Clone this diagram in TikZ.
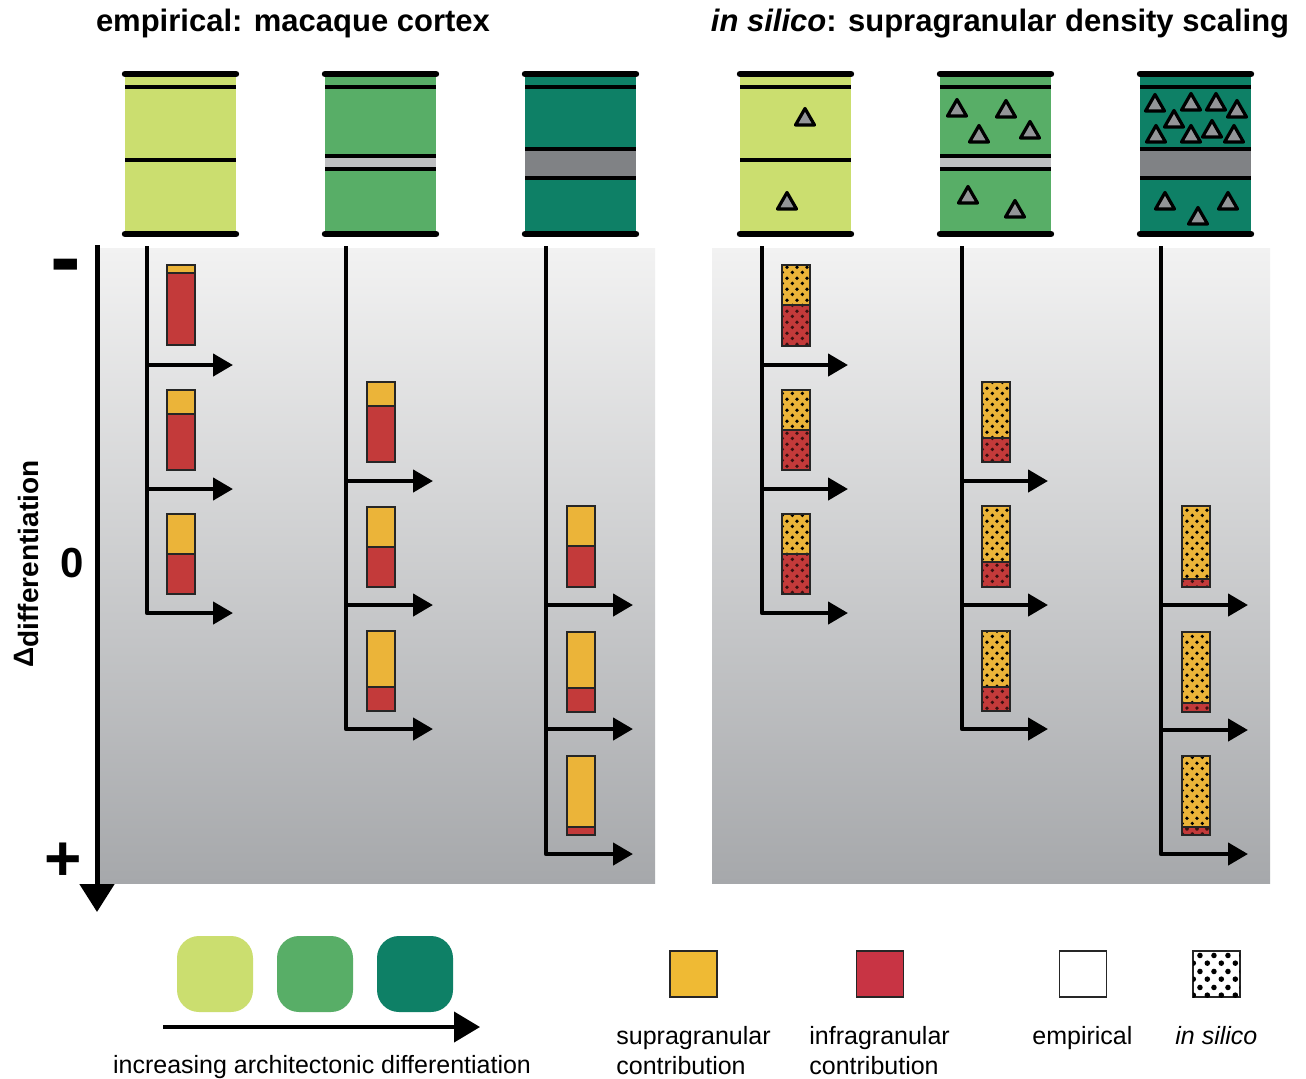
\documentclass[tikz,border=0pt]{standalone}
\usepackage{fontspec}
\setmainfont{Liberation Sans}
\usetikzlibrary{arrows.meta,patterns}
\pgfdeclarepatternformonly{hexdots}{\pgfqpoint{0pt}{0pt}}{\pgfqpoint{5pt}{5.5pt}}{\pgfqpoint{5pt}{5.5pt}}{%
\pgfpathcircle{\pgfqpoint{1.25pt}{1.375pt}}{1.0pt}%
\pgfpathcircle{\pgfqpoint{3.75pt}{4.125pt}}{1.0pt}%
\pgfusepath{fill}}
\pgfdeclarepatternformonly{hexdotsbig}{\pgfqpoint{0pt}{0pt}}{\pgfqpoint{7pt}{8pt}}{\pgfqpoint{7pt}{8pt}}{%
\pgfpathcircle{\pgfqpoint{1.75pt}{2pt}}{1.45pt}%
\pgfpathcircle{\pgfqpoint{5.25pt}{6pt}}{1.45pt}%
\pgfusepath{fill}}
\definecolor{cA}{RGB}{203,222,111}
\definecolor{cB}{RGB}{88,174,103}
\definecolor{cC}{RGB}{14,128,102}
\definecolor{bandA}{RGB}{190,191,193}
\definecolor{bandB}{RGB}{128,130,133}
\definecolor{supracol}{RGB}{235,180,57}
\definecolor{infracol}{RGB}{195,58,58}
\definecolor{legsupra}{RGB}{239,186,52}
\definecolor{leginfra}{RGB}{200,52,68}
\definecolor{trigray}{RGB}{147,149,152}
\definecolor{paneltop}{RGB}{242,242,242}
\definecolor{panelbot}{RGB}{166,168,171}
\tikzset{
 thickln/.style={line width=3.2pt,line cap=round},
 thinln/.style={line width=1.8pt},
 treeline/.style={line width=2.2pt,line join=round,-{Triangle[length=10pt,width=11pt]}},
 barline/.style={draw=black!85,line width=0.6pt},
 trimark/.style={fill=trigray,draw=black,line width=1.6pt,line join=round},
 titletext/.style={font=\fontsize{15.5}{18}\selectfont\bfseries,anchor=base},
 legtext/.style={font=\fontsize{12.5}{15}\selectfont,anchor=base west,inner sep=0pt},
 legsq/.style={draw=black!85,line width=0.7pt,minimum width=23.5pt,minimum height=23pt,inner sep=0pt},
 greensq/.style={rounded corners=11pt,minimum size=38pt,inner sep=0pt},
}
\newcommand{\colbase}[2]{%
 \fill[#2] (#1,74) rectangle ++(111,160);
 \draw[thinln] (#1,87) -- ++(111,0);}
\newcommand{\colband}[4]{%
 \fill[#4] (#1,#2) rectangle ++(111,#3-#2);
 \draw[thinln] (#1,#2) -- ++(111,0);
 \draw[thinln] (#1,#3) -- ++(111,0);}
\newcommand{\coltops}[1]{%
 \draw[thickln] (#1,74) -- ++(111,0);
 \draw[thickln] (#1,234) -- ++(111,0);}
\newcommand{\cortri}[2]{\draw[trimark] (#1-9.5,#2+8) -- (#1,#2-8.5) -- (#1+9.5,#2+8) -- cycle;}
\newcommand{\empbar}[4]{%
 \fill[supracol] (#1,#2) rectangle (#1+28,#3);
 \fill[infracol] (#1,#3) rectangle (#1+28,#4);
 \draw[barline] (#1,#2) rectangle (#1+28,#4);
 \draw[barline] (#1,#3) -- (#1+28,#3);}
\newcommand{\silbar}[4]{%
 \fill[supracol] (#1,#2) rectangle (#1+28,#3);
 \fill[infracol] (#1,#3) rectangle (#1+28,#4);
 \fill[pattern=hexdots,pattern color=black] (#1,#2) rectangle (#1+28,#3);
 \fill[pattern=hexdots,pattern color=black!70!infracol] (#1,#3) rectangle (#1+28,#4);
 \draw[barline] (#1,#2) rectangle (#1+28,#4);
 \draw[barline] (#1,#3) -- (#1+28,#3);}
\newcommand{\branchtree}[5]{%
 \coordinate (#1top) at (#2,246);
 \coordinate (#1end) at (#3,#5);
 \draw[treeline] (#1top) |- (#1end);
 \foreach \yy [count=\k] in {#4} {
   \coordinate (#1s\k) at (#2,\yy);
   \coordinate (#1t\k) at (#3,\yy);
   \draw[treeline] (#1s\k) -- (#1t\k);
 }}
\begin{document}
\begin{tikzpicture}[x=0.5pt,y=-0.5pt]
\fill[white] (0,0) rectangle (1306,1078);
\useasboundingbox (0,0) rectangle (1306,1078);
% titles
\node[titletext] (t1) at (293,31) {empirical: macaque cortex};
\node[titletext] (t2) at (1000,31) {\textit{in silico}: supragranular density scaling};
% panels
\shade[top color=paneltop,bottom color=panelbot] (97,248) rectangle (655,883);
\shade[top color=paneltop,bottom color=panelbot] (712,248) rectangle (1270,883);
% empirical columns
\colbase{125}{cA}
\draw[thinln] (125,160) -- ++(111,0);
\coltops{125}
\colbase{325}{cB}
\colband{325}{156}{169}{bandA}
\coltops{325}
\colbase{525}{cC}
\colband{525}{149}{178}{bandB}
\coltops{525}
% in silico columns
\colbase{740}{cA}
\draw[thinln] (740,160) -- ++(111,0);
\coltops{740}
\colbase{940}{cB}
\colband{940}{156}{169}{bandA}
\coltops{940}
\colbase{1140}{cC}
\colband{1140}{149}{178}{bandB}
\coltops{1140}
% triangles
\cortri{805}{117}
\cortri{787}{201}
\cortri{957}{108}
\cortri{1006}{109}
\cortri{979}{134}
\cortri{1030}{130}
\cortri{968}{195}
\cortri{1015}{209}
\cortri{1155}{103}
\cortri{1191}{102}
\cortri{1216}{102}
\cortri{1237}{109}
\cortri{1174}{119}
\cortri{1212}{129}
\cortri{1156}{134}
\cortri{1191}{134}
\cortri{1234}{134}
\cortri{1165}{201}
\cortri{1198}{216}
\cortri{1228}{201}
% axis
\coordinate (axtop) at (97,245);
\coordinate (axbot) at (97,912);
\draw[line width=2.5pt,-{Triangle[length=14pt,width=17pt]}] (axtop) -- (axbot);
\node[font=\fontsize{46}{46}\selectfont\bfseries,anchor=base,inner sep=0pt] (minus) at (66,288) {-};
\node[font=\fontsize{21}{21}\selectfont\bfseries,anchor=base,inner sep=0pt] (zero) at (72,577) {0};
\node[font=\fontsize{32}{32}\selectfont\bfseries,anchor=base,inner sep=0pt] (plus) at (63,880) {+};
\node[rotate=90,font=\fontsize{14}{16}\selectfont\bfseries,inner sep=0pt] (dlab) at (27,564) {Δ\raisebox{-2.5pt}{differentiation}};
% trees
\branchtree{ea}{147}{233}{365,489}{613}
\branchtree{eb}{346}{433}{481,605}{729}
\branchtree{ec}{546}{633}{605,729}{854}
\branchtree{sa}{762}{848}{365,489}{613}
\branchtree{sb}{962}{1048}{481,605}{729}
\branchtree{sc}{1161}{1248}{605,730}{854}
% empirical bars
\empbar{167}{265}{273}{345}
\empbar{167}{390}{414}{470}
\empbar{167}{514}{554}{594}
\empbar{367}{382}{406}{462}
\empbar{367}{507}{547}{587}
\empbar{367}{631}{687}{711}
\empbar{567}{506}{546}{587}
\empbar{567}{632}{688}{712}
\empbar{567}{756}{827}{835}
% in silico bars
\silbar{782}{265}{305}{346}
\silbar{782}{390}{430}{470}
\silbar{782}{514}{554}{594}
\silbar{982}{382}{438}{462}
\silbar{982}{506}{562}{587}
\silbar{982}{631}{687}{711}
\silbar{1182}{506}{579}{587}
\silbar{1182}{632}{703}{712}
\silbar{1182}{756}{827}{835}
% legend: differentiation
\node[greensq,fill=cA] (g1) at (215,974) {};
\node[greensq,fill=cB] (g2) at (315,974) {};
\node[greensq,fill=cC] (g3) at (415,974) {};
\coordinate (la0) at (163,1027);
\coordinate (la1) at (480,1027);
\draw[line width=2pt,-{Triangle[length=13pt,width=15pt]}] (la0) -- (la1);
\node[font=\fontsize{12.5}{15}\selectfont,anchor=base] (lt) at (322,1073) {increasing architectonic differentiation};
% legend: contributions
\node[legsq,fill=legsupra] (ls) at (693.5,974) {};
\node[legsq,fill=leginfra] (li) at (880,974) {};
\node[legsq,fill=white] (le) at (1083,974) {};
\node[legsq,fill=white] (lsil) at (1216.5,974) {};
\fill[pattern=hexdotsbig,pattern color=black] (1193,951) rectangle (1240,997);
\node[legtext] (lst1) at (616,1044) {supragranular};
\node[legtext] (lst2) at (616,1074) {contribution};
\node[legtext] (lit1) at (809,1044) {infragranular};
\node[legtext] (lit2) at (809,1074) {contribution};
\node[legtext] (let) at (1032,1044) {empirical};
\node[legtext] (lsilt) at (1175,1044) {\textit{in silico}};
\end{tikzpicture}
\end{document}
